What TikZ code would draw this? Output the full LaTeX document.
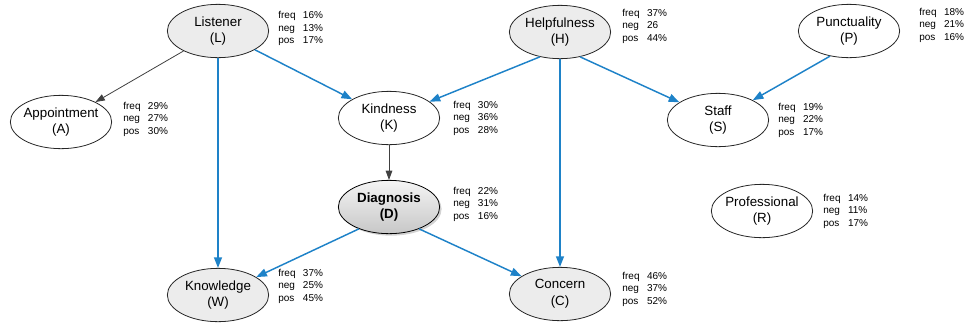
\documentclass[tikz,border=0pt]{standalone}
\usepackage{fontspec}
\setmainfont{Liberation Sans}
\usetikzlibrary{positioning,shapes.geometric,shadows,arrows.meta}
\definecolor{linkblue}{RGB}{30,130,200}
\definecolor{nodegray}{RGB}{236,236,236}
\definecolor{linkgray}{RGB}{64,64,64}
\tikzset{
  var/.style={ellipse, draw=black!85, line width=0.6pt, minimum width=76pt, minimum height=40pt,
    inner xsep=-4pt, inner ysep=0pt, align=center, font=\fontsize{10}{12.5}\selectfont},
  obs/.style={var, fill=nodegray},
  diag/.style={var, top color=white!96!black, bottom color=black!22, draw=black,
    drop shadow={shadow xshift=1.5pt, shadow yshift=-1.5pt, opacity=0.35},
    font=\bfseries\fontsize{10}{12.5}\selectfont},
  stats/.style={inner sep=0pt, align=left, font=\fontsize{7.5}{9.4}\selectfont},
  blue link/.style={draw=linkblue, line width=1.1pt, -{Triangle[length=8pt,width=6pt]}},
  gray link/.style={draw=linkgray, line width=0.6pt, -{Triangle[length=7pt,width=5pt]}}
}
\newcommand{\statlines}[3]{\makebox[18.5pt][l]{freq}#1\\\makebox[18.5pt][l]{neg}#2\\\makebox[18.5pt][l]{pos}#3}

\begin{document}
\begin{tikzpicture}[x=0.75pt, y=-0.75pt]
  \useasboundingbox (0,0) rectangle (967,326);

  % variables
  \node[obs] (L) at (218,31) {Listener\\(L)};
  \node[obs] (H) at (560,32) {Helpfulness\\(H)};
  \node[var] (P) at (849,31) {Punctuality\\(P)};
  \node[var] (A) at (61,122) {Appointment\\(A)};
  \node[var] (K) at (389,118) {Kindness\\(K)};
  \node[var] (S) at (718,120) {Staff\\(S)};
  \node[diag] (D) at (389,207) {Diagnosis\\(D)};
  \node[var] (R) at (762,211) {Professional\\(R)};
  \node[obs] (W) at (218,295) {Knowledge\\(W)};
  \node[obs] (C) at (560,294) {Concern\\(C)};

  % frequencies
  \node[stats, right=6.75pt of L, yshift=1.9pt] (Lst) {\statlines{16\%}{13\%}{17\%}};
  \node[stats, right=8.25pt of H, yshift=4.5pt] (Hst) {\statlines{37\%}{26}{44\%}};
  \node[stats, right=14.25pt of P, yshift=4.5pt] (Pst) {\statlines{18\%}{21\%}{16\%}};
  \node[stats, right=8.25pt of A, yshift=2.25pt] (Ast) {\statlines{29\%}{27\%}{30\%}};
  \node[stats, right=9.75pt of K] (Kst) {\statlines{30\%}{36\%}{28\%}};
  \node[stats, right=6.75pt of S] (Sst) {\statlines{19\%}{22\%}{17\%}};
  \node[stats, right=9.75pt of D, yshift=2.25pt] (Dst) {\statlines{22\%}{31\%}{16\%}};
  \node[stats, right=7.5pt of R] (Rst) {\statlines{14\%}{11\%}{17\%}};
  \node[stats, right=6.75pt of W, yshift=6.75pt] (Wst) {\statlines{37\%}{25\%}{45\%}};
  \node[stats, right=8.25pt of C, yshift=3.75pt] (Cst) {\statlines{46\%}{37\%}{52\%}};

  % links
  \draw[gray link] (L) -- (A);
  \draw[blue link] (L) -- (K);
  \draw[blue link] (L) -- (W);
  \draw[blue link] (H.231) -- (K);
  \draw[blue link] (H) -- (C);
  \draw[blue link] (H.309) -- (S);
  \draw[blue link] (P.233) -- (S);
  \draw[gray link] (K) -- (D);
  \draw[blue link] (D.216) -- (W);
  \draw[blue link] (D.324) -- (C);
\end{tikzpicture}
\end{document}
